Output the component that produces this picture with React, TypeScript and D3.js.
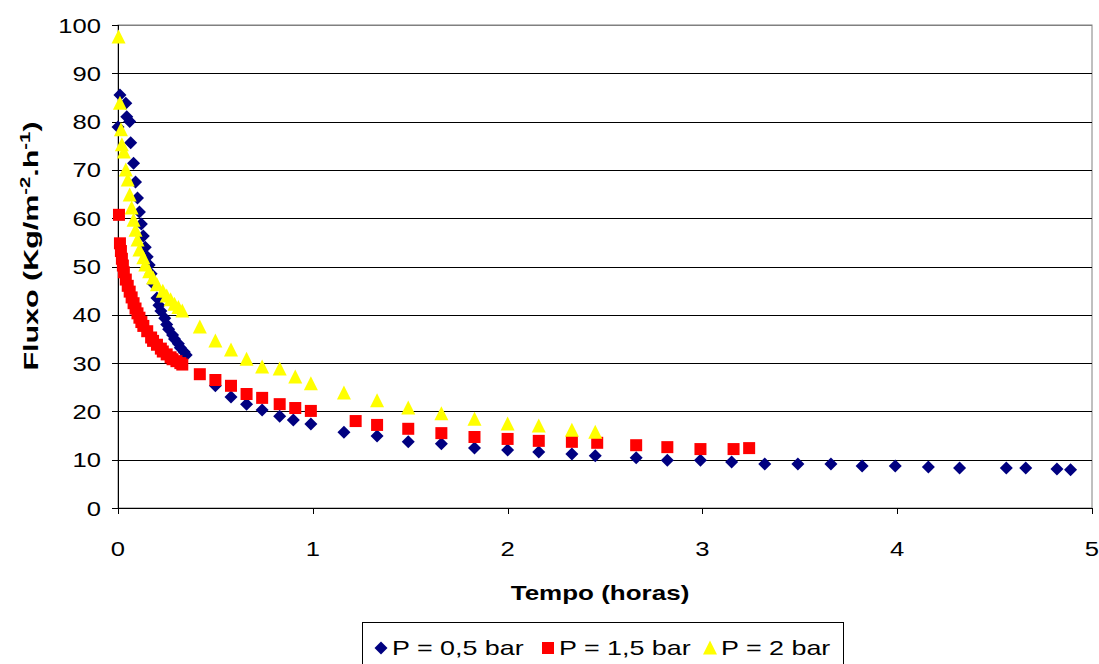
import React from "react";
import * as d3 from "d3";

const xTicks = [0, 1, 2, 3, 4, 5];
const yTicks = [0, 10, 20, 30, 40, 50, 60, 70, 80, 90, 100];

// P = 0,5 bar
const blueX = [0.0, 0.01, 0.04, 0.045, 0.06, 0.065, 0.08, 0.09, 0.1, 0.11, 0.12, 0.13, 0.14, 0.15, 0.16, 0.17, 0.18, 0.2, 0.21, 0.22, 0.24, 0.25, 0.26, 0.28, 0.29, 0.31, 0.32, 0.34, 0.35,
  0.5, 0.58, 0.66, 0.74, 0.83, 0.9, 0.99, 1.16, 1.33, 1.49, 1.66, 1.83, 2.0, 2.16, 2.33, 2.45, 2.66, 2.82, 2.99, 3.15, 3.32, 3.49, 3.66, 3.82, 3.99, 4.16, 4.32, 4.56, 4.66, 4.82, 4.89];
const blueY = [78.9, 85.5, 83.8, 81, 80, 75.6, 71.4, 67.5, 64.2, 61.3, 58.8, 56.3, 54, 52, 50.3, 48.5, 46.5, 43.5, 42, 40.8, 39.3, 38, 37, 35.8, 35, 34, 33.2, 32.3, 31.7,
  25.3, 23.0, 21.5, 20.3, 19.0, 18.2, 17.4, 15.7, 14.9, 13.7, 13.3, 12.4, 12.0, 11.6, 11.2, 10.8, 10.4, 9.9, 9.9, 9.5, 9.1, 9.1, 9.1, 8.7, 8.7, 8.5, 8.3, 8.3, 8.3, 8.1, 7.9];

// P = 1,5 bar
const redX = [0.005, 0.01, 0.015, 0.02, 0.025, 0.03, 0.04, 0.05, 0.06, 0.07, 0.08, 0.09, 0.1, 0.11, 0.12, 0.13, 0.15, 0.17, 0.18, 0.2, 0.22, 0.23, 0.25, 0.27, 0.28, 0.3, 0.32, 0.33,
  0.42, 0.5, 0.58, 0.66, 0.74, 0.83, 0.91, 0.99, 1.22, 1.33, 1.49, 1.66, 1.83, 2.0, 2.16, 2.33, 2.46, 2.66, 2.82, 2.99, 3.16, 3.24];
const redY = [60.7, 54.8, 53.2, 51.6, 50.2, 48.8, 47.3, 46.0, 44.8, 43.6, 42.4, 41.3, 40.3, 39.4, 38.5, 37.7, 36.6, 35.3, 34.6, 33.8, 33.0, 32.4, 31.8, 31.2, 30.8, 30.4, 30.0, 29.7,
  27.7, 26.5, 25.3, 23.6, 22.8, 21.5, 20.7, 20.1, 18.0, 17.2, 16.4, 15.5, 14.7, 14.3, 13.9, 13.7, 13.5, 13.0, 12.6, 12.2, 12.2, 12.4];

// P = 2 bar
const yellowX = [0.003, 0.01, 0.015, 0.02, 0.03, 0.04, 0.05, 0.06, 0.07, 0.08, 0.09, 0.1, 0.11, 0.13, 0.14, 0.16, 0.18, 0.2, 0.23, 0.25, 0.27, 0.29, 0.31, 0.33,
  0.42, 0.5, 0.58, 0.66, 0.74, 0.83, 0.91, 0.99, 1.16, 1.33, 1.49, 1.66, 1.83, 2.0, 2.16, 2.33, 2.45];
const yellowY = [97.5, 83.8, 78.3, 75.2, 73.7, 70.0, 67.9, 64.8, 62.1, 59.6, 57.5, 55.5, 53.4, 51.8, 50.3, 48.9, 47.6, 46.2, 44.9, 43.9, 43.1, 42.2, 41.5, 40.8,
  37.5, 34.6, 32.7, 30.8, 29.2, 28.8, 27.1, 25.7, 23.8, 22.2, 20.7, 19.5, 18.4, 17.4, 17.0, 16.1, 15.7];

const seriesNames = ["P = 0,5 bar", "P = 1,5 bar", "P = 2 bar"];
const seriesColors = ["#000080", "#FF0000", "#FFFF00"];

const W = 1099, H = 664;
const left = 118, right = 1092, top = 25, bottom = 508;
const FONT = "'Liberation Sans', Arial, sans-serif";

function marker(kind: number, cx: number, cy: number, color: string, key: string) {
  if (kind === 0) {
    const r = 6.5;
    return <path key={key} d={`M${cx},${cy - r}L${cx + r},${cy}L${cx},${cy + r}L${cx - r},${cy}Z`} fill={color} />;
  }
  if (kind === 1) {
    const s = 12;
    return <rect key={key} x={cx - s / 2} y={cy - s / 2} width={s} height={s} fill={color} />;
  }
  const h = 13, w = 14;
  return <path key={key} d={`M${cx},${cy - h / 2 - 1}L${cx + w / 2},${cy + h / 2}L${cx - w / 2},${cy + h / 2}Z`} fill={color} />;
}

export default function App() {
  const x = d3.scaleLinear().domain([0, 5]).range([left, right]);
  const y = d3.scaleLinear().domain([0, 100]).range([bottom, top]);
  const data = [
    blueX.map((v, i) => [v, blueY[i]]),
    redX.map((v, i) => [v, redY[i]]),
    yellowX.map((v, i) => [v, yellowY[i]]),
  ];
  const drawOrder = [0, 1, 2];
  const legendMarkers = [381, 548, 710];
  return (
    <svg width={W} height={H} style={{ position: "absolute", left: 0, top: 0, background: "#fff" }} fontFamily={FONT}>
      <rect x={0} y={0} width={W} height={H} fill="#fff" />
      <rect x={left} y={top} width={right - left} height={bottom - top} fill="none" stroke="#808080" strokeWidth={1} />
      {yTicks.filter((t) => t > 0).map((t) => (
        <line key={"g" + t} x1={left} x2={right} y1={Math.round(y(t)) + 0.5} y2={Math.round(y(t)) + 0.5} stroke={t === 100 ? "#808080" : "#000"} strokeWidth={1} />
      ))}
      <line x1={left + 0.5} x2={left + 0.5} y1={top} y2={bottom} stroke="#000" />
      <line x1={left} x2={right} y1={bottom + 0.5} y2={bottom + 0.5} stroke="#000" />
      {yTicks.map((t) => (
        <g key={"yt" + t}>
          <line x1={left - 6} x2={left} y1={Math.round(y(t)) + 0.5} y2={Math.round(y(t)) + 0.5} stroke="#000" />
          <text transform={`translate(101,${y(t) + 7.5}) scale(1.22,1)`} textAnchor="end" fontSize={21}>{t}</text>
        </g>
      ))}
      {xTicks.map((t) => (
        <g key={"xt" + t}>
          <line x1={Math.round(x(t)) + 0.5} x2={Math.round(x(t)) + 0.5} y1={bottom} y2={bottom + 6} stroke="#000" />
          <text transform={`translate(${x(t)},556) scale(1.22,1)`} textAnchor="middle" fontSize={21}>{t}</text>
        </g>
      ))}
      <text transform="translate(600,600) scale(1.3,1)" textAnchor="middle" fontSize={20} fontWeight="bold">Tempo (horas)</text>
      <text transform="translate(38,246) rotate(-90) scale(1.45,1)" textAnchor="middle" fontSize={21} fontWeight="bold">
        Fluxo (Kg/m<tspan dy={-8} fontSize={14}>-2</tspan><tspan dy={8}>.h</tspan><tspan dy={-8} fontSize={14}>-1</tspan><tspan dy={8}>)</tspan>
      </text>
      {drawOrder.map((si) => (
        <g key={"s" + si}>
          {data[si].map((p, i) => marker(si, x(p[0]), y(p[1]), seriesColors[si], `${si}-${i}`))}
        </g>
      ))}
      <rect x={362.5} y={622.5} width={481} height={44} fill="#fff" stroke="#000" />
      {[0, 1, 2].map((si) => {
        const mx = legendMarkers[si];
        return (
          <g key={"l" + si}>
            {marker(si, mx, 648, seriesColors[si], "lm" + si)}
            <text transform={`translate(${mx + 11},655) scale(1.28,1)`} fontSize={21}>{seriesNames[si]}</text>
          </g>
        );
      })}
    </svg>
  );
}
